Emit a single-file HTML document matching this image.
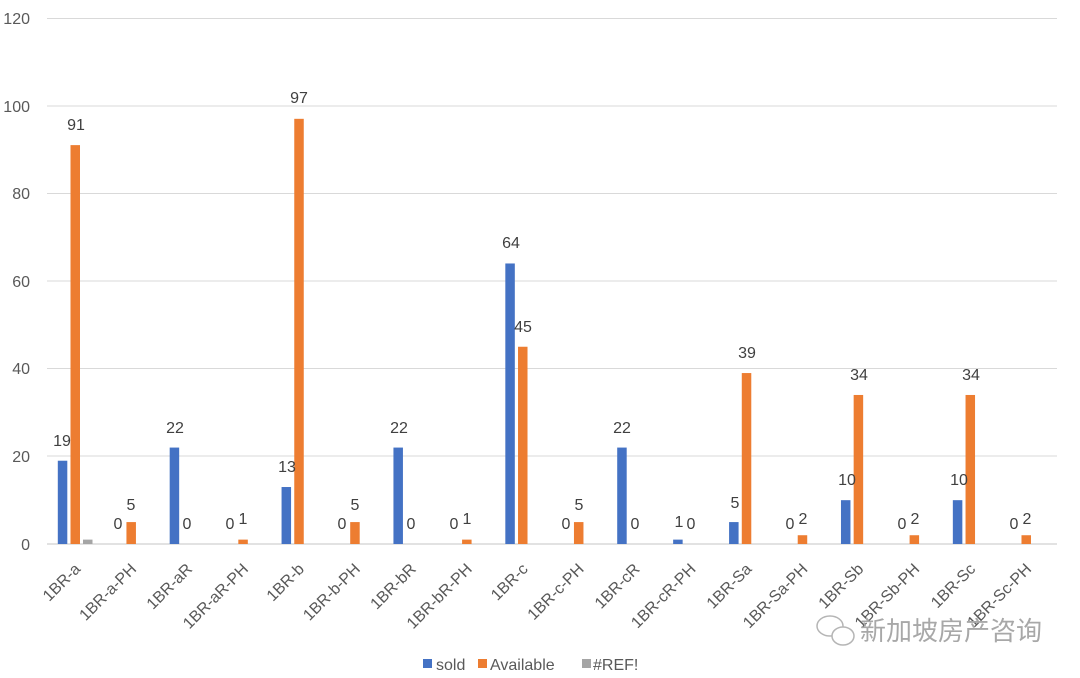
<!DOCTYPE html>
<html><head><meta charset="utf-8"><style>
html,body{margin:0;padding:0;background:#fff;}
svg{display:block;font-family:"Liberation Sans","Noto Sans CJK SC",sans-serif;}
</style></head><body>
<svg width="1080" height="678" viewBox="0 0 1080 678" xmlns="http://www.w3.org/2000/svg">
<g stroke="#d9d9d9" stroke-width="1">
<line x1="47" x2="1057" y1="18.5" y2="18.5"/>
<line x1="47" x2="1057" y1="106" y2="106"/>
<line x1="47" x2="1057" y1="193.5" y2="193.5"/>
<line x1="47" x2="1057" y1="281" y2="281"/>
<line x1="47" x2="1057" y1="368.5" y2="368.5"/>
<line x1="47" x2="1057" y1="456" y2="456"/>
<line x1="47" x2="1057" y1="544" y2="544" stroke-width="1.5"/>
</g>
<g fill="#595959" font-size="16" text-anchor="end">
<text x="30" y="24">120</text>
<text x="30" y="112">100</text>
<text x="30" y="199">80</text>
<text x="30" y="287">60</text>
<text x="30" y="374">40</text>
<text x="30" y="462">20</text>
<text x="30" y="550">0</text>
</g>
<g fill="#4472c4">
<rect x="57.8" y="460.72" width="9.5" height="83.28"/>
<rect x="169.68" y="447.57" width="9.5" height="96.43"/>
<rect x="281.56" y="487.02" width="9.5" height="56.98"/>
<rect x="393.44" y="447.57" width="9.5" height="96.43"/>
<rect x="505.32" y="263.47" width="9.5" height="280.53"/>
<rect x="617.2" y="447.57" width="9.5" height="96.43"/>
<rect x="673.14" y="539.62" width="9.5" height="4.38"/>
<rect x="729.08" y="522.08" width="9.5" height="21.92"/>
<rect x="840.96" y="500.17" width="9.5" height="43.83"/>
<rect x="952.84" y="500.17" width="9.5" height="43.83"/>
</g>
<g fill="#ed7d31">
<rect x="70.5" y="145.12" width="9.5" height="398.88"/>
<rect x="126.44" y="522.08" width="9.5" height="21.92"/>
<rect x="238.32" y="539.62" width="9.5" height="4.38"/>
<rect x="294.26" y="118.82" width="9.5" height="425.18"/>
<rect x="350.2" y="522.08" width="9.5" height="21.92"/>
<rect x="462.08" y="539.62" width="9.5" height="4.38"/>
<rect x="518.02" y="346.75" width="9.5" height="197.25"/>
<rect x="573.96" y="522.08" width="9.5" height="21.92"/>
<rect x="741.78" y="373.05" width="9.5" height="170.95"/>
<rect x="797.72" y="535.23" width="9.5" height="8.77"/>
<rect x="853.66" y="394.97" width="9.5" height="149.03"/>
<rect x="909.6" y="535.23" width="9.5" height="8.77"/>
<rect x="965.54" y="394.97" width="9.5" height="149.03"/>
<rect x="1021.48" y="535.23" width="9.5" height="8.77"/>
</g>
<rect x="83" y="539.62" width="9.5" height="4.38" fill="#a5a5a5"/>
<g fill="#404040" font-size="16" text-anchor="middle">
<text x="62" y="446">19</text><text x="76" y="130">91</text>
<text x="118" y="529">0</text><text x="131" y="510">5</text>
<text x="175" y="433">22</text><text x="187" y="529">0</text>
<text x="230" y="529">0</text><text x="243" y="524">1</text>
<text x="287" y="472">13</text><text x="299" y="103">97</text>
<text x="342" y="529">0</text><text x="355" y="510">5</text>
<text x="399" y="433">22</text><text x="411" y="529">0</text>
<text x="454" y="529">0</text><text x="467" y="524">1</text>
<text x="511" y="248">64</text><text x="523" y="332">45</text>
<text x="566" y="529">0</text><text x="579" y="510">5</text>
<text x="622" y="433">22</text><text x="635" y="529">0</text>
<text x="679" y="527">1</text><text x="691" y="529">0</text>
<text x="735" y="508">5</text><text x="747" y="358">39</text>
<text x="790" y="529">0</text><text x="803" y="524">2</text>
<text x="847" y="485">10</text><text x="859" y="380">34</text>
<text x="902" y="529">0</text><text x="915" y="524">2</text>
<text x="959" y="485">10</text><text x="971" y="380">34</text>
<text x="1014" y="529">0</text><text x="1027" y="524">2</text>
</g>
<g fill="#595959" font-size="16" text-anchor="end">
<text transform="translate(81.3,570) rotate(-45)">1BR-a</text>
<text transform="translate(137.24,570) rotate(-45)">1BR-a-PH</text>
<text transform="translate(193.18,570) rotate(-45)">1BR-aR</text>
<text transform="translate(249.12,570) rotate(-45)">1BR-aR-PH</text>
<text transform="translate(305.06,570) rotate(-45)">1BR-b</text>
<text transform="translate(361,570) rotate(-45)">1BR-b-PH</text>
<text transform="translate(416.94,570) rotate(-45)">1BR-bR</text>
<text transform="translate(472.88,570) rotate(-45)">1BR-bR-PH</text>
<text transform="translate(528.82,570) rotate(-45)">1BR-c</text>
<text transform="translate(584.76,570) rotate(-45)">1BR-c-PH</text>
<text transform="translate(640.7,570) rotate(-45)">1BR-cR</text>
<text transform="translate(696.64,570) rotate(-45)">1BR-cR-PH</text>
<text transform="translate(752.58,570) rotate(-45)">1BR-Sa</text>
<text transform="translate(808.52,570) rotate(-45)">1BR-Sa-PH</text>
<text transform="translate(864.46,570) rotate(-45)">1BR-Sb</text>
<text transform="translate(920.4,570) rotate(-45)">1BR-Sb-PH</text>
<text transform="translate(976.34,570) rotate(-45)">1BR-Sc</text>
<text transform="translate(1032.28,570) rotate(-45)">1BR-Sc-PH</text>
</g>
<g fill="none" stroke="#b5b5b5" stroke-width="1.5">
<ellipse cx="830" cy="626" rx="13" ry="10"/>
<ellipse cx="843" cy="636" rx="11" ry="9" fill="#fff"/>
</g>
<text x="860" y="640" font-size="26" fill="#a8a8a8" font-family="'Noto Sans CJK SC',sans-serif">新加坡房产咨询</text>
<g font-size="16" fill="#595959">
<rect x="423" y="659" width="9" height="9" fill="#4472c4"/><text x="436" y="670">sold</text>
<rect x="478" y="659" width="9" height="9" fill="#ed7d31"/><text x="490" y="670">Available</text>
<rect x="582" y="659" width="9" height="9" fill="#a5a5a5"/><text x="593" y="670">#REF!</text>
</g>
</svg>
</body></html>
